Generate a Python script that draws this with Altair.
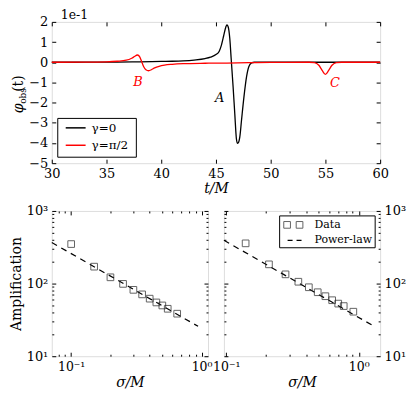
import altair as alt
import pandas as pd

FONT = "DejaVu Serif"

# ---------------- top panel data (phi_obs in units of 1e-1) ----------------
t_black = [30, 32, 34, 36, 38, 40, 41, 42, 43, 44,
           44.5, 45.0, 45.3, 45.5, 45.7, 45.85, 46.0, 46.12, 46.26, 46.4,
           46.57, 46.72, 46.87, 46.97, 47.08, 47.18, 47.33, 47.55, 47.8, 48.0,
           48.25, 48.5, 50, 55, 60]
phi_black = [0.0, 0.0, 0.005, 0.01, 0.02, 0.04, 0.05, 0.07, 0.11, 0.18,
             0.25, 0.38, 0.55, 0.85, 1.3, 1.65, 1.85, 1.75, 1.2, 0.1,
             -1.25, -2.55, -3.8, -4.02, -3.95, -3.7, -2.9, -1.75, -0.7, -0.22,
             -0.03, 0.0, 0.0, 0.0, 0.0]

t_red = [30, 33, 35, 36, 36.8, 37.3, 37.6, 37.8, 38.0, 38.2,
         38.4, 38.6, 38.85, 39.1, 39.4, 39.8, 40.3, 41, 42, 44,
         46, 48, 50, 53.5, 54.0, 54.4, 54.7, 55.0, 55.3, 55.6,
         56.0, 56.5, 60]
phi_red = [0, 0.005, 0.02, 0.05, 0.1, 0.2, 0.3, 0.36, 0.3, 0.05,
           -0.22, -0.37, -0.42, -0.37, -0.28, -0.2, -0.14, -0.1, -0.07, -0.05,
           -0.04, -0.02, -0.01, 0, -0.02, -0.15, -0.4, -0.6, -0.4, -0.15,
           -0.02, 0, 0]

ann_label = ["A", "B", "C"]
ann_t = [45.34, 37.87, 55.86]
ann_phi = [-1.77, -0.99, -1.03]
ann_color = ["black", "red", "red"]

top_x_ticks = [30, 35, 40, 45, 50, 55, 60]
top_y_ticks = [-5, -4, -3, -2, -1, 0, 1, 2]

# ---------------- bottom panels data ----------------
sigma_left = [0.1, 0.15, 0.2, 0.25, 0.3, 0.35, 0.4, 0.45, 0.5, 0.55, 0.65]
amp_left = [350, 171, 122, 99, 82, 71, 62, 55, 50, 45, 38.5]
fit_left_sigma = [0.071, 0.94]
fit_left_amp = [368, 25.8]

sigma_right = [0.14, 0.21, 0.28, 0.35, 0.42, 0.49, 0.56, 0.63, 0.70, 0.77, 0.91]
amp_right = [358, 184, 134, 106, 89, 76, 67, 59, 53, 49, 41]
fit_right_sigma = [0.096, 1.26]
fit_right_amp = [395, 26.8]

log_x_major = [0.1, 1.0]
log_y_major = [10, 100, 1000]
log_y_minor = [20, 30, 40, 50, 60, 70, 80, 90, 200, 300, 400, 500, 600, 700, 800, 900]


def axis(orient, values, size, show_labels=False, label_expr=None, title=None,
         title_style="normal", label_pad=3, title_pad=4, label_size=13):
    kw = dict(orient=orient, values=values, offset=-size, tickSize=size,
              tickColor="black", tickWidth=1, domain=False, grid=False,
              labels=show_labels, title=title)
    if show_labels:
        kw.update(labelFont=FONT, labelFontSize=label_size, labelColor="black",
                  labelPadding=label_pad, labelFlush=False, labelOverlap=False)
        if label_expr:
            kw["labelExpr"] = label_expr
    if title is not None:
        kw.update(titleFont=FONT, titleFontSize=14, titleFontWeight="normal",
                  titleFontStyle=title_style, titleColor="black", titlePadding=title_pad)
    return alt.Axis(**kw)


one = alt.Data(values=[{}])

# ---------------- top panel ----------------
xs = alt.Scale(domain=[30, 60], nice=False, zero=False)
ys = alt.Scale(domain=[-5, 2], nice=False, zero=False)

df_black = pd.DataFrame({"t": t_black, "phi": phi_black})
df_red = pd.DataFrame({"t": t_red, "phi": phi_red})
df_ann = pd.DataFrame({"label": ann_label, "t": ann_t, "phi": ann_phi, "c": ann_color})

black = alt.Chart(df_black).mark_line(color="black", strokeWidth=1.3, interpolate="monotone").encode(
    x=alt.X("t:Q", scale=xs, axis=axis("bottom", top_x_ticks, 4, True, title="t/M",
                                       title_style="italic", label_pad=4, title_pad=1)),
    y=alt.Y("phi:Q", scale=ys, axis=axis("left", top_y_ticks, 4, True, label_pad=4)),
)
red = alt.Chart(df_red).mark_line(color="red", strokeWidth=1.3, interpolate="monotone").encode(
    x=alt.X("t:Q", scale=xs, axis=axis("top", top_x_ticks, 4)),
    y=alt.Y("phi:Q", scale=ys, axis=axis("right", top_y_ticks, 4)),
)
ann = alt.Chart(df_ann).mark_text(font=FONT, fontStyle="italic", fontSize=13).encode(
    x=alt.X("t:Q", scale=xs, axis=None),
    y=alt.Y("phi:Q", scale=ys, axis=None),
    text="label:N",
    color=alt.Color("c:N", scale=None),
)

leg_box = alt.Chart(one).mark_rect(fill="white", stroke="black", strokeWidth=1).encode(
    x=alt.value(6), x2=alt.value(85), y=alt.value(97), y2=alt.value(136))
leg_l1 = alt.Chart(one).mark_rule(color="black", strokeWidth=1.5).encode(
    x=alt.value(14), x2=alt.value(34), y=alt.value(106.5))
leg_l2 = alt.Chart(one).mark_rule(color="red", strokeWidth=1.5).encode(
    x=alt.value(14), x2=alt.value(34), y=alt.value(124))
leg_t1 = alt.Chart(one).mark_text(font=FONT, fontSize=12, align="left", baseline="middle").encode(
    x=alt.value(40), y=alt.value(106.5), text=alt.value("γ=0"))
leg_t2 = alt.Chart(one).mark_text(font=FONT, fontSize=12, align="left", baseline="middle").encode(
    x=alt.value(40), y=alt.value(124), text=alt.value("γ=π/2"))

offset_txt = alt.Chart(one).mark_text(font=FONT, fontSize=12.5, align="left", baseline="middle").encode(
    x=alt.value(9), y=alt.value(-7), text=alt.value("1e-1"))
yt1 = alt.Chart(one).mark_text(font=FONT, fontSize=14, angle=270, align="center", baseline="middle",
                               fontStyle="italic").encode(
    x=alt.value(-33), y=alt.value(87), text=alt.value("φ"))
yt2 = alt.Chart(one).mark_text(font=FONT, fontSize=9, angle=270, align="center", baseline="middle").encode(
    x=alt.value(-29), y=alt.value(74.5), text=alt.value("obs"))
yt3 = alt.Chart(one).mark_text(font=FONT, fontSize=14, angle=270, align="center", baseline="middle").encode(
    x=alt.value(-33), y=alt.value(62), text=alt.value("(t)"))

top = alt.layer(black, red, ann, leg_box, leg_l1, leg_l2, leg_t1, leg_t2,
                offset_txt, yt1, yt2, yt3).resolve_axis(
    x="independent", y="independent").properties(width=330, height=142)


# ---------------- bottom panels ----------------
def panel(sig, amp, fsig, fam, dom, minor_x, side, legend):
    dfp = pd.DataFrame({"s": sig, "a": amp})
    dff = pd.DataFrame({"s": fsig, "a": fam})
    xsc = alt.Scale(type="log", domain=dom, nice=False)
    ysc = alt.Scale(type="log", domain=[10, 1000], nice=False)
    xlab = "datum.value < 0.5 ? '10⁻¹' : '10⁰'"
    ylab = "datum.value < 50 ? '10¹' : (datum.value < 500 ? '10²' : '10³')"
    other = "right" if side == "left" else "left"
    fit = alt.Chart(dff).mark_line(color="black", strokeDash=[6, 5], strokeWidth=1.2).encode(
        x=alt.X("s:Q", scale=xsc, axis=axis("bottom", log_x_major, 4, True, xlab, "σ/M", "italic",
                                            label_pad=4, title_pad=3, label_size=12.5)),
        y=alt.Y("a:Q", scale=ysc, axis=axis(side, log_y_major, 4, True, ylab,
                                            "Amplification" if side == "left" else None,
                                            label_pad=4, title_pad=3)),
    )
    pts = alt.Chart(dfp).mark_point(shape="square", filled=False, color="#222", size=45,
                                    strokeWidth=1).encode(
        x=alt.X("s:Q", scale=xsc, axis=axis("bottom", minor_x, 2)),
        y=alt.Y("a:Q", scale=ysc, axis=axis(side, log_y_minor, 2)),
    )
    d1 = alt.Chart(dfp).mark_point(opacity=0).encode(
        x=alt.X("s:Q", scale=xsc, axis=axis("top", log_x_major, 4)),
        y=alt.Y("a:Q", scale=ysc, axis=axis(other, log_y_major, 4)),
    )
    d2 = alt.Chart(dfp).mark_point(opacity=0).encode(
        x=alt.X("s:Q", scale=xsc, axis=axis("top", minor_x, 2)),
        y=alt.Y("a:Q", scale=ysc, axis=axis(other, log_y_minor, 2)),
    )
    layers = [fit, pts, d1, d2]
    if legend:
        layers += [
            alt.Chart(one).mark_rect(fill="white", stroke="black", strokeWidth=1).encode(
                x=alt.value(56), x2=alt.value(152), y=alt.value(5), y2=alt.value(37)),
            alt.Chart(alt.Data(values=[{"p": 63.5}, {"p": 76}])).mark_point(
                shape="square", filled=False, color="#222", size=45, strokeWidth=1).encode(
                x=alt.X("p:Q", scale=None, axis=None), y=alt.value(14)),
            alt.Chart(one).mark_rule(color="black", strokeDash=[5, 4], strokeWidth=1.2).encode(
                x=alt.value(64), x2=alt.value(79), y=alt.value(29.5)),
            alt.Chart(one).mark_text(font=FONT, fontSize=11, align="left", baseline="middle").encode(
                x=alt.value(91), y=alt.value(14), text=alt.value("Data")),
            alt.Chart(one).mark_text(font=FONT, fontSize=11, align="left", baseline="middle").encode(
                x=alt.value(91), y=alt.value(29.5), text=alt.value("Power-law")),
        ]
    return alt.layer(*layers).resolve_axis(x="independent", y="independent").properties(
        width=157, height=146)


left = panel(sigma_left, amp_left, fit_left_sigma, fit_left_amp, [0.071, 1.12],
             [0.08, 0.09, 0.2, 0.3, 0.4, 0.5, 0.6, 0.7, 0.8, 0.9], "left", False)
right = panel(sigma_right, amp_right, fit_right_sigma, fit_right_amp, [0.096, 1.45],
              [0.2, 0.3, 0.4, 0.5, 0.6, 0.7, 0.8, 0.9], "right", True)

bottom = alt.hconcat(left, right, spacing=16, bounds="flush")
chart = alt.vconcat(top, bottom, spacing=48, bounds="flush").properties(
    padding={"left": 0, "top": -1, "right": 0, "bottom": 0}
).configure_view(stroke="black", strokeWidth=1).configure(font=FONT)

chart.save("out.html", embed_options={"renderer": "svg", "actions": False})
